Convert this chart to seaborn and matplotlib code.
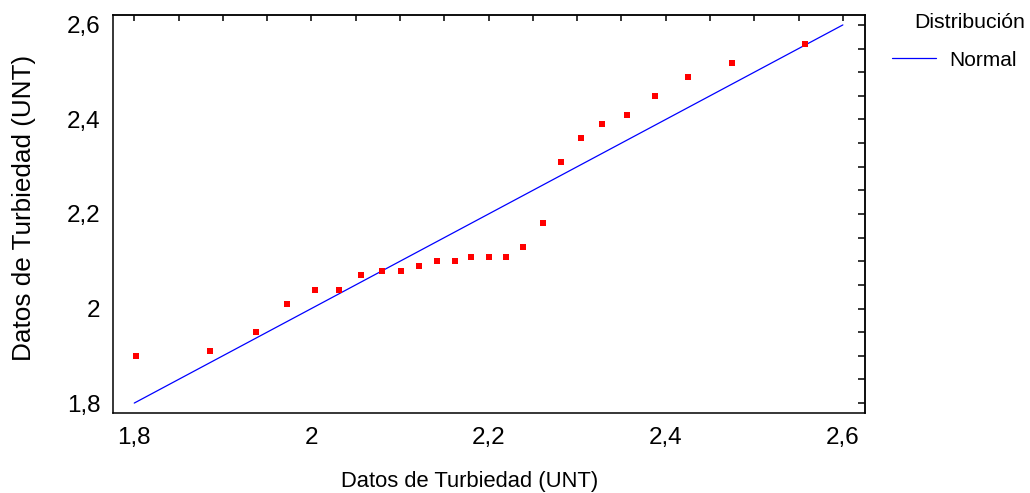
import matplotlib
matplotlib.use("Agg")
import matplotlib.pyplot as plt
from matplotlib.ticker import MultipleLocator, FixedLocator, FixedFormatter
import seaborn as sns
import pandas as pd

quantiles = [1.802, 1.886, 1.937, 1.973, 2.004, 2.031, 2.056, 2.080, 2.101,
             2.122, 2.142, 2.162, 2.180, 2.200, 2.220, 2.239, 2.261, 2.282,
             2.304, 2.328, 2.356, 2.388, 2.425, 2.475, 2.557]
turbidity = [1.90, 1.91, 1.95, 2.01, 2.04, 2.04, 2.07, 2.08, 2.08,
             2.09, 2.10, 2.10, 2.11, 2.11, 2.11, 2.13, 2.18, 2.31,
             2.36, 2.39, 2.41, 2.45, 2.49, 2.52, 2.56]
ref_x = [1.8, 2.6]
ref_y = [1.8, 2.6]
tick_values = [1.8, 2.0, 2.2, 2.4, 2.6]
tick_labels = ["1,8", "2", "2,2", "2,4", "2,6"]
axis_label = "Datos de Turbiedad (UNT)"
legend_title = "Distribución"
legend_entry = "Normal"

sns.set_style("white")
plt.rcParams["font.family"] = ["Liberation Sans", "DejaVu Sans"]
plt.rcParams["text.color"] = "black"
plt.rcParams["axes.labelcolor"] = "black"
plt.rcParams["xtick.color"] = "black"
plt.rcParams["ytick.color"] = "black"

pts = pd.DataFrame({"q": quantiles, "v": turbidity})
line = pd.DataFrame({"x": ref_x, "y": ref_y})

W, H = 1030, 493
AX_L, AX_R, AX_T, AX_B = 113, 865, 15, 413
fig = plt.figure(figsize=(W / 100, H / 100), dpi=100)
ax = fig.add_axes([AX_L / W, 1 - AX_B / H, (AX_R - AX_L) / W, (AX_B - AX_T) / H])

sns.lineplot(data=line, x="x", y="y", ax=ax, color="#0000ff", linewidth=0.9,
             label=legend_entry)
sns.scatterplot(data=pts, x="q", y="v", ax=ax, marker="s", color="#ff0000",
                s=24, linewidth=0, legend=False, zorder=3)

ax.set_xlim(1.776, 2.625)
ax.set_ylim(1.779, 2.621)

for a in (ax.xaxis, ax.yaxis):
    a.set_major_locator(FixedLocator(tick_values))
    a.set_major_formatter(FixedFormatter(tick_labels))
    a.set_minor_locator(MultipleLocator(0.05))

ax.tick_params(axis="x", which="major", direction="in", length=6, width=1.1,
               labelsize=17.5, pad=10)
ax.tick_params(axis="x", which="minor", direction="in", length=3, width=1.1)
ax.tick_params(axis="y", which="major", direction="in", length=11, width=1.1,
               labelsize=17.5, pad=9)
ax.tick_params(axis="y", which="minor", direction="in", length=5.5, width=1.1)

# top and right ticks
top = ax.secondary_xaxis("top")
top.xaxis.set_major_locator(MultipleLocator(0.05))
top.tick_params(direction="in", length=4, width=1.1, labeltop=False)
top.spines["top"].set_linewidth(1.1)
right = ax.secondary_yaxis("right")
right.yaxis.set_major_locator(MultipleLocator(0.05))
right.tick_params(direction="in", length=5, width=1.1, labelright=False)
right.spines["right"].set_linewidth(1.1)

for sp in ax.spines.values():
    sp.set_linewidth(1.1)
    sp.set_color("black")

ax.set_xlabel(axis_label, fontsize=15.8)
ax.xaxis.label.set_va("baseline")
ax.xaxis.set_label_coords((470 - AX_L) / (AX_R - AX_L), (AX_B - 487) / (AX_B - AX_T))
ax.set_ylabel(axis_label, fontsize=18.8)
ax.yaxis.set_label_coords((36 - AX_L) / (AX_R - AX_L), (AX_B - 208) / (AX_B - AX_T))

leg = ax.legend(loc="center left", bbox_to_anchor=(892 / W, 1 - 60 / H),
                bbox_transform=fig.transFigure, frameon=False, fontsize=15,
                handlelength=2.1, handletextpad=0.65, borderpad=0,
                borderaxespad=0)
fig.text(1025 / W, 1 - 23 / H, legend_title, ha="right", va="center",
         fontsize=15.3)

fig.savefig("out.png", dpi=100)
